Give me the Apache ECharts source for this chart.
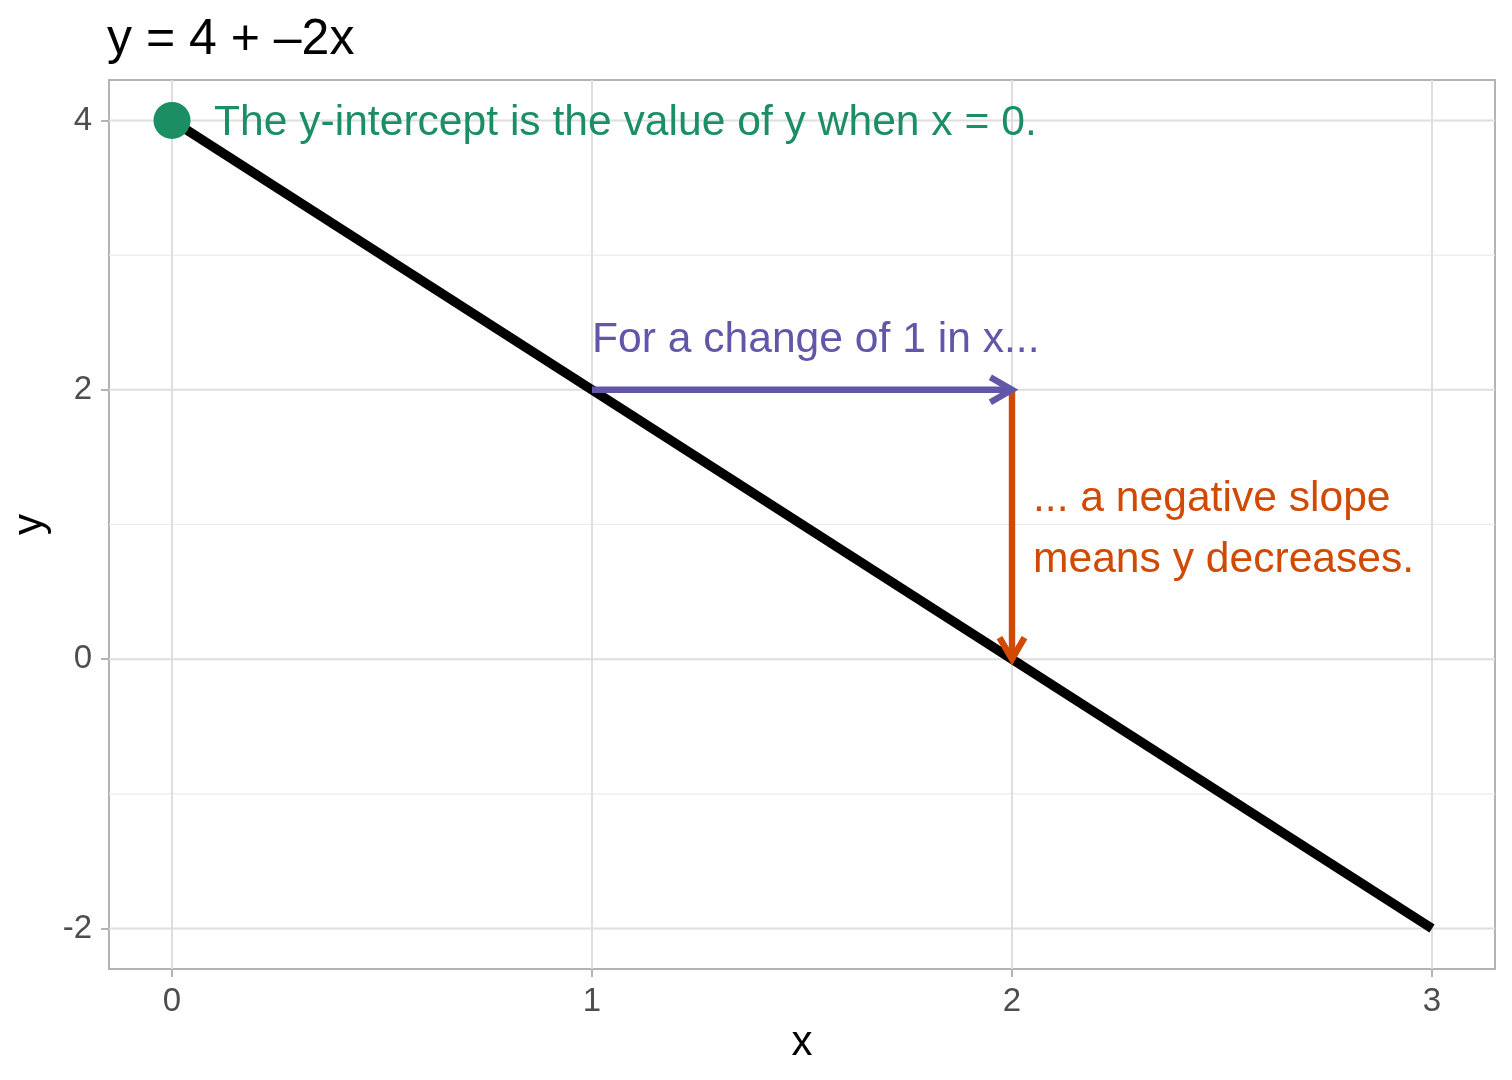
<!DOCTYPE html>
<html>
<head>
<meta charset="utf-8">
<script src="https://cdn.jsdelivr.net/npm/echarts@6/dist/echarts.min.js"></script>
<style>
  html, body { margin: 0; padding: 0; background: #fff; }
  #chart { width: 1512px; height: 1080px; }
</style>
</head>
<body>
<div id="chart"></div>
<script>
// ---- data ----
const titleText = 'y = 4 + \u20132x';
const xTicks = [0, 1, 2, 3];
const yTicks = [-2, 0, 2, 4];
const yMinorTicks = [-1, 1, 3];
const lineX = [0, 3];
const lineY = [4, -2];
const interceptPoint = [0, 4];
const runArrow = [1, 2, 2, 2];     // x0, y0, x1, y1
const riseArrow = [2, 2, 2, 0];    // x0, y0, x1, y1
const interceptLabel = 'The y-intercept is the value of y when x = 0.';
const interceptLabelAt = [0.1, 4];
const runLabel = 'For a change of 1 in x...';
const runLabelAt = [1, 2.39];
const riseLabel = '... a negative slope\nmeans y decreases.';
const riseLabelAt = [2.05, 1];
const xRange = [-0.15, 3.15];
const yRange = [-2.3, 4.3];

// ---- styles ----
const FONT = '"Liberation Sans", Arial, Helvetica, sans-serif';
const GREEN = '#1b8e64';
const PURPLE = '#6157a8';
const ORANGE = '#d04a04';

const chart = echarts.init(document.getElementById('chart'), null, { renderer: 'canvas' });

function gridLineItem(orient, color, width) {
  return function (params, api) {
    const cs = params.coordSys;
    const p = api.coord([api.value(0), api.value(1)]);
    const shape = orient === 'h'
      ? { x1: cs.x, y1: p[1], x2: cs.x + cs.width, y2: p[1] }
      : { x1: p[0], y1: cs.y, x2: p[0], y2: cs.y + cs.height };
    return { type: 'line', shape: shape, style: { stroke: color, lineWidth: width } };
  };
}

function arrowItem(color) {
  return function (params, api) {
    const p0 = api.coord([api.value(0), api.value(1)]);
    const p1 = api.coord([api.value(2), api.value(3)]);
    const ang = Math.atan2(p1[1] - p0[1], p1[0] - p0[0]);
    const L = 25, a = Math.PI / 6;
    const h1 = [p1[0] - L * Math.cos(ang - a), p1[1] - L * Math.sin(ang - a)];
    const h2 = [p1[0] - L * Math.cos(ang + a), p1[1] - L * Math.sin(ang + a)];
    return {
      type: 'group',
      children: [
        { type: 'line', shape: { x1: p0[0], y1: p0[1], x2: p1[0], y2: p1[1] },
          style: { stroke: color, lineWidth: 6.4, lineCap: 'butt' } },
        { type: 'polyline', shape: { points: [h1, p1, h2] },
          style: { stroke: color, fill: null, lineWidth: 6.4, lineJoin: 'miter', lineCap: 'butt' } }
      ]
    };
  };
}

function textItem(text, color, lineHeight, dy) {
  return function (params, api) {
    const p = api.coord([api.value(0), api.value(1)]);
    return {
      type: 'text', x: p[0], y: p[1] + dy,
      style: { text: text, fill: color, fontSize: 42.6, fontFamily: FONT,
               align: 'left', verticalAlign: 'middle', lineHeight: lineHeight }
    };
  };
}

const option = {
  backgroundColor: '#ffffff',
  animation: false,
  title: {
    text: titleText,
    left: 107, top: 15, padding: 0,
    textStyle: { fontSize: 50, fontWeight: 'normal', color: '#000', fontFamily: FONT }
  },
  grid: {
    left: 109, right: 17, top: 80, bottom: 111,
    show: true, borderColor: '#b3b3b3', borderWidth: 2, backgroundColor: 'transparent',
    containLabel: false
  },
  xAxis: {
    type: 'value', min: xRange[0], max: xRange[1],
    name: 'x', nameLocation: 'middle', nameGap: 52,
    nameTextStyle: { fontSize: 42, color: '#000', fontFamily: FONT },
    axisLine: { show: false, onZero: false },
    axisTick: { show: true, length: 8, customValues: xTicks, lineStyle: { color: '#b3b3b3', width: 2 } },
    axisLabel: { customValues: xTicks, margin: 16, fontSize: 33, color: '#4d4d4d', fontFamily: FONT },
    splitLine: { show: false }
  },
  yAxis: {
    type: 'value', min: yRange[0], max: yRange[1],
    name: 'y', nameLocation: 'middle', nameGap: 54, nameRotate: 90,
    nameTextStyle: { fontSize: 42, color: '#000', fontFamily: FONT },
    axisLine: { show: false, onZero: false },
    axisTick: { show: true, length: 8, customValues: yTicks, lineStyle: { color: '#b3b3b3', width: 2 } },
    axisLabel: { customValues: yTicks, margin: 17, fontSize: 33, color: '#4d4d4d', fontFamily: FONT },
    splitLine: { show: false }
  },
  series: [
    { type: 'custom', silent: true, z: 0, renderItem: gridLineItem('h', '#ebebeb', 1.2),
      data: yMinorTicks.map(v => [0, v]) },
    { type: 'custom', silent: true, z: 0, renderItem: gridLineItem('h', '#dedede', 2),
      data: yTicks.map(v => [0, v]) },
    { type: 'custom', silent: true, z: 0, renderItem: gridLineItem('v', '#dedede', 2),
      data: xTicks.map(v => [v, 0]) },
    { type: 'line', z: 3, symbol: 'none', silent: true,
      lineStyle: { color: '#000', width: 9.5, cap: 'butt' },
      data: lineX.map((x, i) => [x, lineY[i]]) },
    { type: 'custom', z: 4, silent: true, renderItem: arrowItem(ORANGE), data: [riseArrow] },
    { type: 'custom', z: 5, silent: true, renderItem: arrowItem(PURPLE), data: [runArrow] },
    { type: 'scatter', z: 6, silent: true, symbol: 'circle', symbolSize: 37,
      itemStyle: { color: GREEN, opacity: 1 }, data: [interceptPoint] },
    { type: 'custom', z: 7, silent: true, clip: false, renderItem: textItem(interceptLabel, GREEN, 50, 3), data: [interceptLabelAt] },
    { type: 'custom', z: 7, silent: true, clip: false, renderItem: textItem(runLabel, PURPLE, 50, 3), data: [runLabelAt] },
    { type: 'custom', z: 7, silent: true, clip: false, renderItem: textItem(riseLabel, ORANGE, 61, 5), data: [riseLabelAt] }
  ]
};
chart.setOption(option);
</script>
</body>
</html>
